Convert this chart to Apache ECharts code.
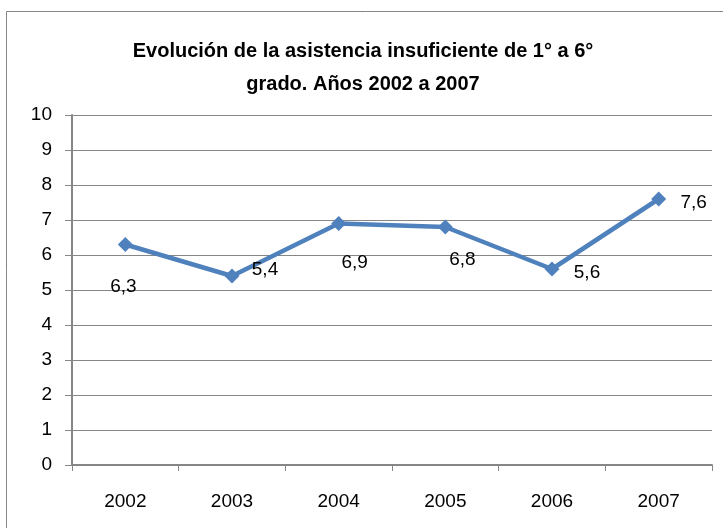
<!DOCTYPE html>
<html>
<head>
<meta charset="utf-8">
<script src="https://cdn.jsdelivr.net/npm/echarts@6/dist/echarts.min.js"></script>
<style>
  html, body { margin: 0; padding: 0; background: #fff; }
  #chart { width: 723px; height: 528px; }
</style>
</head>
<body>
<div id="chart"></div>
<script>
// datos del gráfico
var years = ['2002', '2003', '2004', '2005', '2006', '2007'];
var asistencia = [6.3, 5.4, 6.9, 6.8, 5.6, 7.6];
var yTicks = [0, 10, 1];

// dónde va cada etiqueta respecto al punto
var labelOffsets = [[-2, 42], [33, -6], [16, 39], [17, 33], [35, 4], [35, 4]];

var chart = echarts.init(document.getElementById('chart'));
var font = '"Liberation Sans", Arial, sans-serif';

var option = {
    animation: false,
    title: {
        text: 'Evolución de la asistencia insuficiente de 1° a 6°\ngrado. Años 2002 a 2007',
        left: 358,
        top: 30,
        textAlign: 'center',
        textStyle: {
            fontFamily: font,
            fontSize: 20,
            fontWeight: 'bold',
            color: '#000',
            lineHeight: 33
        }
    },
    graphic: [{
        type: 'rect',
        shape: { x: 6.5, y: 11.5, width: 800, height: 600 },
        style: { fill: 'none', stroke: '#878787', lineWidth: 1 },
        silent: true
    }],
    grid: { left: 72, right: 11, top: 115, bottom: 63 },
    xAxis: {
        type: 'category',
        data: years,
        boundaryGap: true,
        axisLine: { lineStyle: { color: '#868686', width: 2 } },
        axisTick: { show: true, length: 6, lineStyle: { color: '#868686', width: 1 } },
        axisLabel: { color: '#000', fontFamily: font, fontSize: 19, margin: 27 }
    },
    yAxis: {
        type: 'value',
        min: yTicks[0],
        max: yTicks[1],
        interval: yTicks[2],
        axisLine: { show: true, lineStyle: { color: '#868686', width: 2 } },
        axisTick: { show: true, length: 7, lineStyle: { color: '#868686', width: 1 } },
        axisLabel: { color: '#000', fontFamily: font, fontSize: 19, margin: 20 },
        splitLine: { lineStyle: { color: '#868686', width: 1 } }
    },
    series: [{
        type: 'line',
        data: asistencia.map(function (v, i) {
            return {
                value: v,
                label: { position: 'inside', offset: labelOffsets[i] }
            };
        }),
        symbol: 'diamond',
        symbolSize: 15,
        lineStyle: { color: '#4F81BD', width: 4.5 },
        itemStyle: { color: '#4F81BD' },
        label: {
            show: true,
            color: '#000',
            fontFamily: font,
            fontSize: 19,
            formatter: function (p) { return String(p.value).replace('.', ','); }
        }
    }]
};

chart.setOption(option);
</script>
</body>
</html>
